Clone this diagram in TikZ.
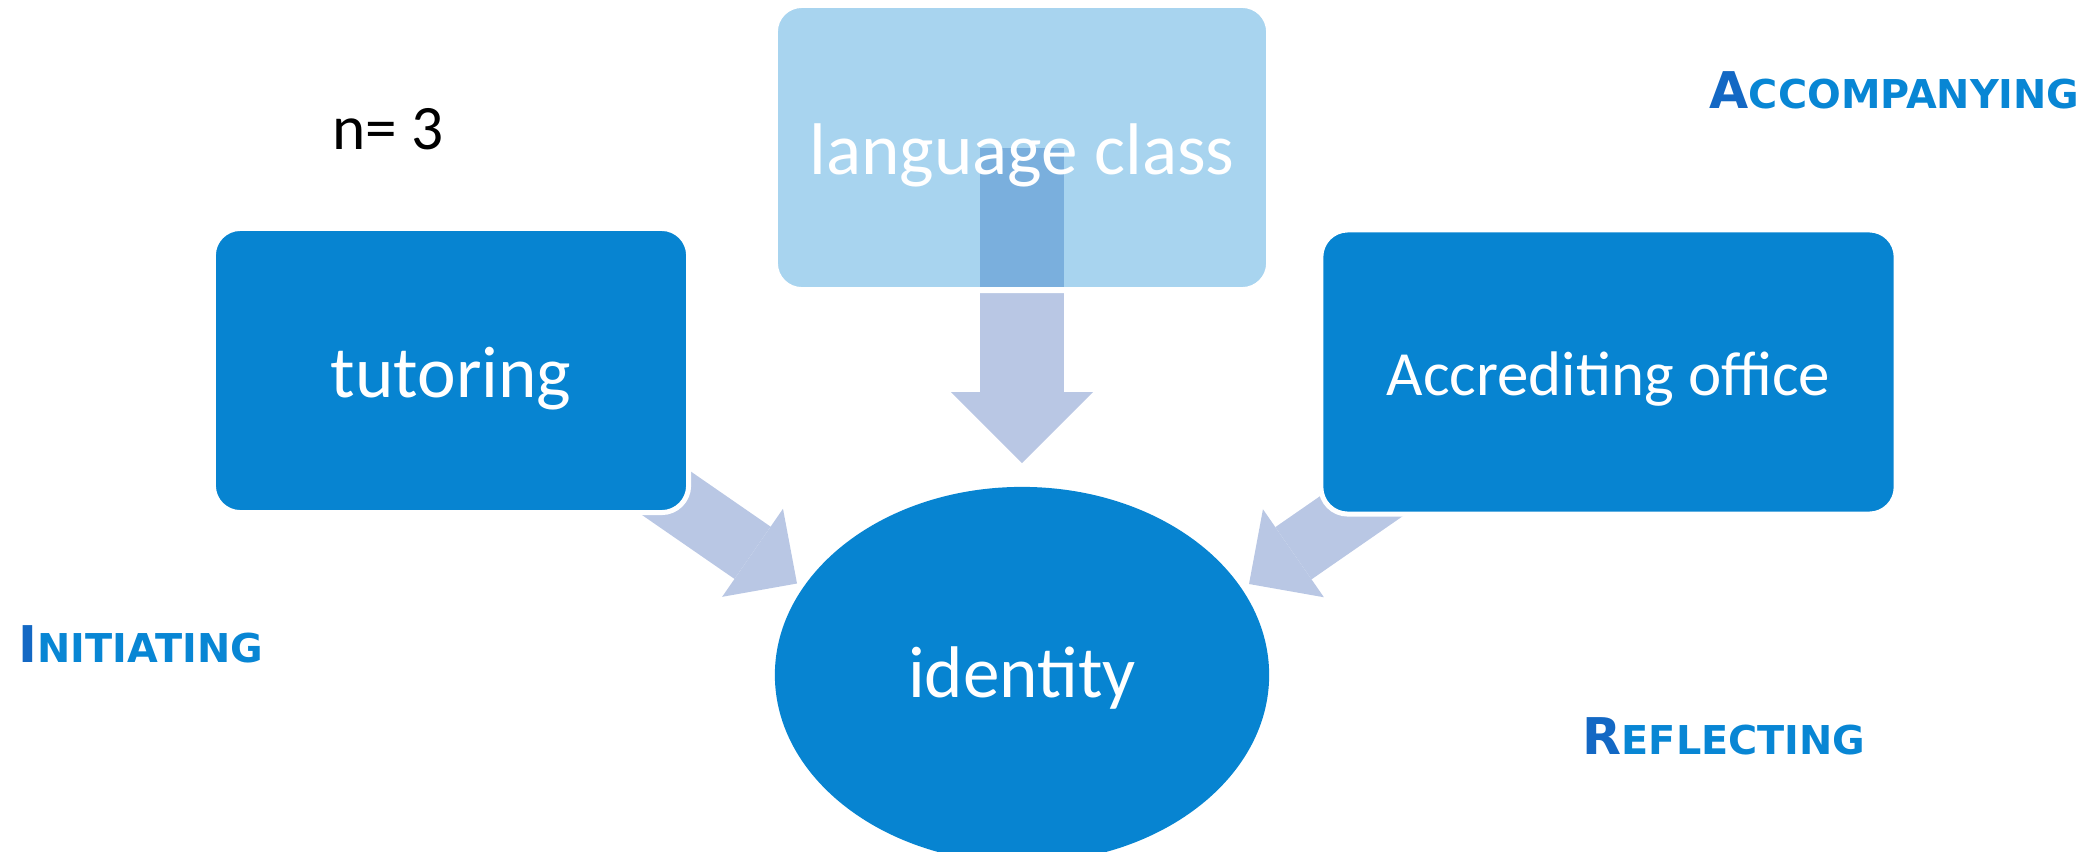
\documentclass[tikz,border=0pt]{standalone}
\usepackage{fontspec}
\setmainfont{Carlito}
\newfontfamily\tagfont{DejaVu Sans}
\usetikzlibrary{arrows.meta, shapes.geometric, backgrounds}
\definecolor{BoxBlue}{RGB}{7,132,209}
\definecolor{ArrowBlue}{RGB}{185,199,228}
\definecolor{TagBlue}{RGB}{8,134,212}
\definecolor{TagDark}{RGB}{19,104,196}
% phase names: big first letter, small capitals after it
\newcommand{\phasename}[2]{{\tagfont\bfseries{\color{TagDark}\fontsize{14.4}{16}\selectfont #1}\fontsize{11.3}{14}\selectfont #2}}
\tikzset{
  % boxes round the centre
  block/.style={rectangle, rounded corners=0.27cm, fill=BoxBlue, draw=white, line width=0.05cm,
    text=white, font=\fontsize{20.8}{24}\selectfont, minimum width=4.75cm, minimum height=2.84cm,
    inner sep=0, outer sep=0, text height=0.68cm, text depth=0.15cm},
  block light/.style={block, fill opacity=0.35, text opacity=1, line width=0.06cm,
    minimum width=4.94cm, minimum height=2.85cm},
  hub/.style={ellipse, fill=BoxBlue, text=white, font=\fontsize{20.8}{24}\selectfont,
    minimum width=4.94cm, minimum height=3.76cm, inner sep=0, text height=0.59cm, text depth=0.15cm},
  % block arrows
  flow/.style={ArrowBlue, line width=0.84cm, -{Triangle[length=0.71cm, width=1.42cm, line width=0pt]}},
  flow small/.style={flow, line width=0.635cm, -{Triangle[length=0.54cm, width=1.07cm, line width=0pt]}},
  tag/.style={anchor=base west, inner sep=0, text=TagBlue}
}
\begin{document}
\begin{tikzpicture}[x=0.01cm, y=-0.01cm]
  \useasboundingbox (0,0) rectangle (2092,851);
  \clip (0,0) rectangle (2092,851);
  % centre and the three sources
  \node[hub] (core) at (1022,675) {identity};
  \node[block] (tutor) at (451,370.5) {tutoring};
  \node[block light] (lang) at (1022,147.5) {language class};
  \node[block, minimum width=5.75cm, text height=0.61cm, font=\fontsize{17.9}{21}\selectfont]
    (office) at (1608.5,372) {Accrediting office};
  \node[anchor=base west, inner sep=0, font=\fontsize{18}{21}\selectfont] (size) at (332,149) {n= 3};
  % phases
  \node[tag] (init) at (18,662) {\phasename{I}{NITIATING}};
  \node[tag] (accomp) at (1709,108) {\phasename{A}{CCOMPANYING}};
  \node[tag] (refl) at (1582,754) {\phasename{R}{EFLECTING}};
  % arrows into the centre
  \begin{scope}[on background layer]
    \coordinate (tip-l) at (797,583.5);
    \coordinate (tip-r) at (1249,584);
    \draw[flow, shorten >=0.23cm] (lang.center) -- (core.north);
    \draw[flow small] ([shift={(-35.5,-28.5)}]tutor.south east) -- (tip-l);
    \draw[flow small] ([shift={(70.4,-28.6)}]office.south west) -- (tip-r);
  \end{scope}
\end{tikzpicture}
\end{document}
